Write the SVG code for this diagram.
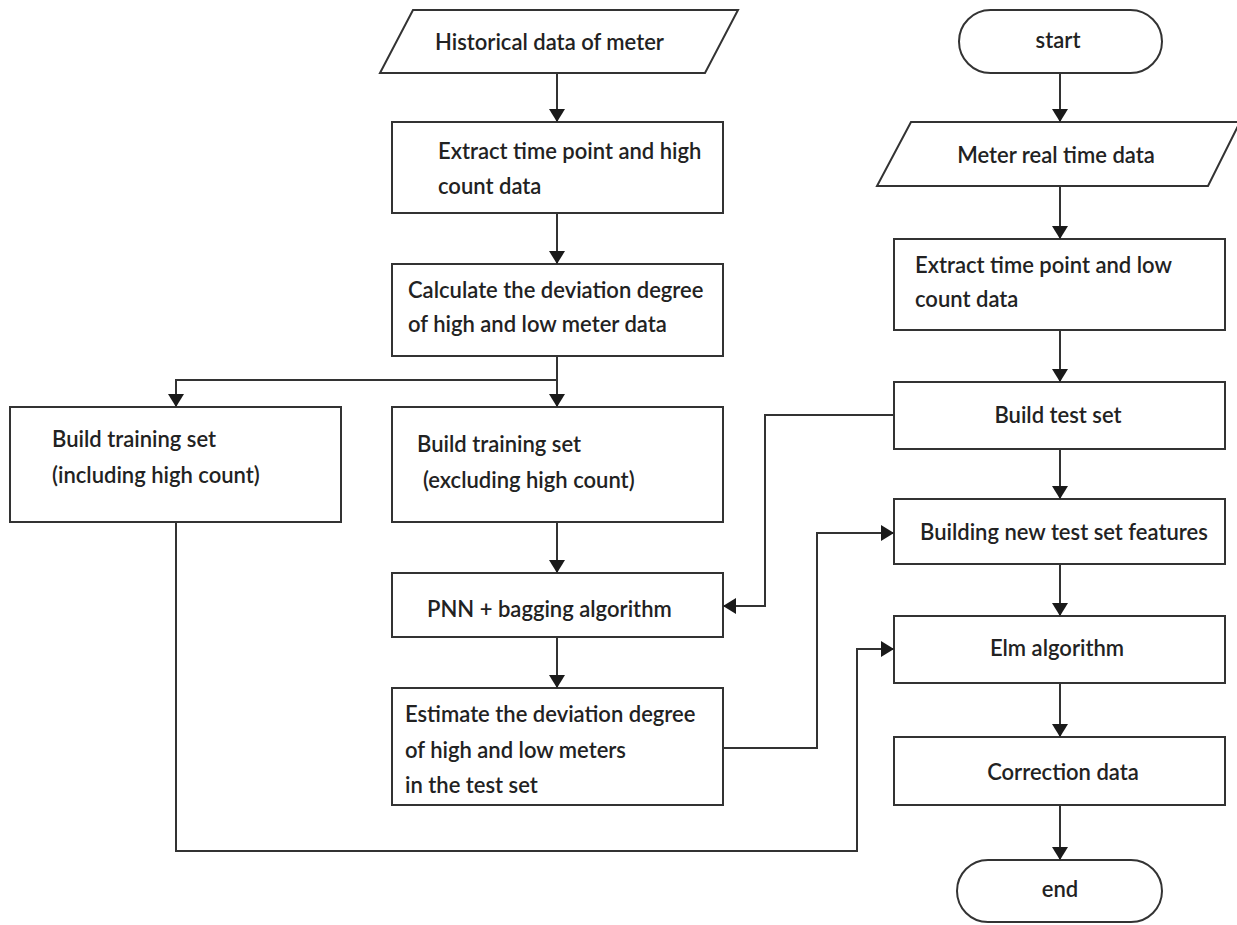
<svg xmlns="http://www.w3.org/2000/svg" width="1237" height="925" viewBox="0 0 1237 925">
  <defs>
    <marker id="arrow" viewBox="0 0 13 16" refX="13" refY="8" markerWidth="13" markerHeight="16" markerUnits="userSpaceOnUse" orient="auto">
      <path d="M0,0 L13,8 L0,16 Z" fill="#1a1a1a"/>
    </marker>
    <style>
      .shape { fill: #ffffff; stroke: #333333; stroke-width: 2; }
      .label { font-family: Lato, "Open Sans", "Liberation Sans", sans-serif; font-size: 22px; fill: #222222; font-weight: 600; }
      .mid { text-anchor: middle; }
      .link { fill: none; stroke: #333333; stroke-width: 2; }
    </style>
  </defs>
  <rect width="1237" height="925" fill="#ffffff"/>

  <!-- left column: historical data chain -->
  <g id="historical">
    <polygon class="shape" points="413,10 738,10 705,73 380,73"/>
    <text class="label" x="435" y="50">Historical data of meter</text>
  </g>
  <g id="extract-high">
    <rect class="shape" x="392" y="122" width="331" height="91"/>
    <text class="label" x="438" y="159">Extract time point and high</text>
    <text class="label" x="438" y="194">count data</text>
  </g>
  <g id="deviation">
    <rect class="shape" x="392" y="264" width="331" height="92"/>
    <text class="label" x="408" y="298">Calculate the deviation degree</text>
    <text class="label" x="408" y="332">of high and low meter data</text>
  </g>
  <g id="train-incl">
    <rect class="shape" x="10" y="407" width="331" height="115"/>
    <text class="label" x="52" y="447">Build training set</text>
    <text class="label" x="52" y="483">(including high count)</text>
  </g>
  <g id="train-excl">
    <rect class="shape" x="392" y="407" width="331" height="115"/>
    <text class="label" x="417" y="452">Build training set</text>
    <text class="label" x="423" y="488">(excluding high count)</text>
  </g>
  <g id="pnn">
    <rect class="shape" x="392" y="573" width="331" height="64"/>
    <text class="label" x="427" y="617">PNN + bagging algorithm</text>
  </g>
  <g id="estimate">
    <rect class="shape" x="392" y="688" width="331" height="117"/>
    <text class="label" x="405" y="722">Estimate the deviation degree</text>
    <text class="label" x="405" y="758">of high and low meters</text>
    <text class="label" x="405" y="793">in the test set</text>
  </g>

  <!-- right column: real-time chain -->
  <g id="start">
    <rect class="shape" x="959" y="10" width="203" height="63" rx="31.5" ry="31.5"/>
    <text class="label mid" x="1058" y="48">start</text>
  </g>
  <g id="realtime">
    <polygon class="shape" points="911,122 1240,122 1208,186 877,186"/>
    <text class="label mid" x="1056" y="163">Meter real time data</text>
  </g>
  <g id="extract-low">
    <rect class="shape" x="894" y="239" width="331" height="91"/>
    <text class="label" x="915" y="273">Extract time point and low</text>
    <text class="label" x="915" y="307">count data</text>
  </g>
  <g id="test-set">
    <rect class="shape" x="894" y="382" width="331" height="67"/>
    <text class="label mid" x="1058" y="423">Build test set</text>
  </g>
  <g id="new-features">
    <rect class="shape" x="894" y="499" width="331" height="65"/>
    <text class="label" x="920" y="540">Building new test set features</text>
  </g>
  <g id="elm">
    <rect class="shape" x="894" y="616" width="331" height="67"/>
    <text class="label mid" x="1057" y="656">Elm algorithm</text>
  </g>
  <g id="correction">
    <rect class="shape" x="894" y="737" width="331" height="68"/>
    <text class="label mid" x="1063" y="780">Correction data</text>
  </g>
  <g id="end">
    <rect class="shape" x="957" y="860" width="205" height="62" rx="31" ry="31"/>
    <text class="label mid" x="1060" y="897">end</text>
  </g>

  <!-- connectors -->
  <g id="connectors">
    <line class="link" x1="557" y1="73" x2="557" y2="122" marker-end="url(#arrow)"/>
    <line class="link" x1="557" y1="213" x2="557" y2="264" marker-end="url(#arrow)"/>
    <line class="link" x1="557" y1="356" x2="557" y2="407" marker-end="url(#arrow)"/>
    <polyline class="link" points="557,380 176,380 176,407" marker-end="url(#arrow)"/>
    <line class="link" x1="557" y1="522" x2="557" y2="573" marker-end="url(#arrow)"/>
    <line class="link" x1="557" y1="637" x2="557" y2="688" marker-end="url(#arrow)"/>
    <polyline class="link" points="723,748 817,748 817,533 894,533" marker-end="url(#arrow)"/>
    <polyline class="link" points="176,522 176,851 857,851 857,649 894,649" marker-end="url(#arrow)"/>
    <polyline class="link" points="894,415 765,415 765,606 723,606" marker-end="url(#arrow)"/>

    <line class="link" x1="1060" y1="73" x2="1060" y2="122" marker-end="url(#arrow)"/>
    <line class="link" x1="1060" y1="186" x2="1060" y2="239" marker-end="url(#arrow)"/>
    <line class="link" x1="1060" y1="330" x2="1060" y2="382" marker-end="url(#arrow)"/>
    <line class="link" x1="1060" y1="449" x2="1060" y2="499" marker-end="url(#arrow)"/>
    <line class="link" x1="1060" y1="564" x2="1060" y2="616" marker-end="url(#arrow)"/>
    <line class="link" x1="1060" y1="683" x2="1060" y2="737" marker-end="url(#arrow)"/>
    <line class="link" x1="1060" y1="805" x2="1060" y2="860" marker-end="url(#arrow)"/>
  </g>
</svg>
